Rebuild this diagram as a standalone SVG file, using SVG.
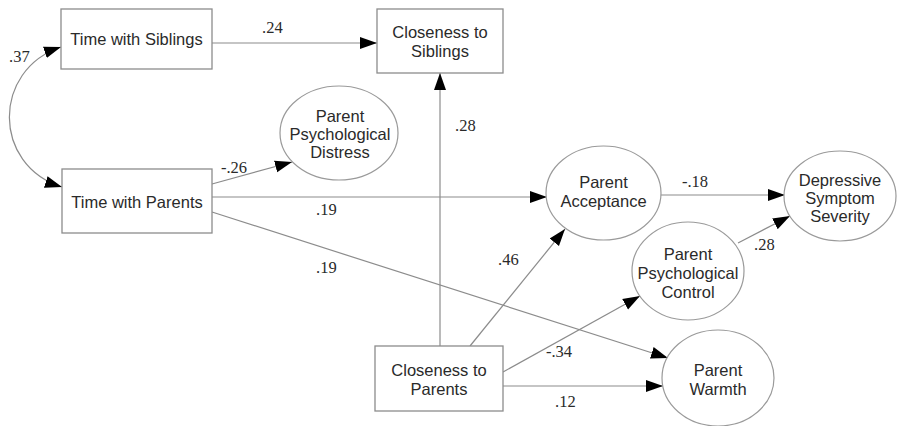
<svg xmlns="http://www.w3.org/2000/svg" width="897" height="426" viewBox="0 0 897 426">
<defs>
<marker id="ah" markerUnits="userSpaceOnUse" markerWidth="18" markerHeight="14" refX="17" refY="7" orient="auto">
<path d="M0,1 L17,7 L0,13 z" fill="#000"/>
</marker>
<marker id="ahs" markerUnits="userSpaceOnUse" markerWidth="18" markerHeight="14" refX="17" refY="7" orient="auto-start-reverse">
<path d="M0,1 L17,7 L0,13 z" fill="#000"/>
</marker>
</defs>
<style>
.box{fill:#fff;stroke:#8c8c8c;stroke-width:1.3}
.ell{fill:#fff;stroke:#9a9a9a;stroke-width:1.2}
.lbl{font-family:"Liberation Sans",Arial,sans-serif;font-size:16.5px;fill:#2a2a2a;text-anchor:middle}
.num{font-family:"Liberation Serif","Times New Roman",serif;font-size:16.5px;fill:#2a2a2a}
.edge{fill:none;stroke:#8c8c8c;stroke-width:1.2;marker-end:url(#ah)}
</style>
<rect width="897" height="426" fill="#fff"/>
<g id="connectors">
<path class="edge" d="M212,43 L377,43"/>
<path d="M61,47 C-8,70 -8,165 62,187" fill="none" stroke="#8c8c8c" stroke-width="1.2" marker-start="url(#ahs)" marker-end="url(#ah)"/>
<path class="edge" d="M212,184 L292,162"/>
<path class="edge" d="M212,197 L547,197"/>
<path class="edge" d="M212,212 L668,358"/>
<path class="edge" d="M440,346 L440,73"/>
<path class="edge" d="M470,346 L565,229"/>
<path class="edge" d="M503,372 L640,296"/>
<path class="edge" d="M503,386 L663,386"/>
<path class="edge" d="M661,195 L785,195"/>
<path class="edge" d="M738,243 L790,216"/>
<text class="num" x="262" y="33">.24</text>
<text class="num" x="9" y="62">.37</text>
<text class="num" x="221" y="173">-.26</text>
<text class="num" x="316" y="215">.19</text>
<text class="num" x="316" y="273">.19</text>
<text class="num" x="455" y="131">.28</text>
<text class="num" x="498" y="265">.46</text>
<text class="num" x="546" y="357">-.34</text>
<text class="num" x="555" y="407">.12</text>
<text class="num" x="682" y="187">-.18</text>
<text class="num" x="754" y="250">.28</text>
</g>
<g id="time-siblings">
<rect class="box" x="61" y="9" width="151" height="60"/>
<text class="lbl" x="136.5" y="45">Time with Siblings</text>
</g>
<g id="time-parents">
<rect class="box" x="62" y="169" width="150" height="64"/>
<text class="lbl" x="137" y="208">Time with Parents</text>
</g>
<g id="closeness-siblings">
<rect class="box" x="377" y="9" width="126" height="64"/>
<text class="lbl" x="440" y="38">Closeness to</text>
<text class="lbl" x="440" y="57">Siblings</text>
</g>
<g id="closeness-parents">
<rect class="box" x="375" y="346" width="128" height="65"/>
<text class="lbl" x="439" y="376">Closeness to</text>
<text class="lbl" x="439" y="395">Parents</text>
</g>
<g id="parent-distress">
<ellipse class="ell" cx="339" cy="133" rx="59" ry="47"/>
<text class="lbl" x="340" y="122">Parent</text>
<text class="lbl" x="340" y="140">Psychological</text>
<text class="lbl" x="340" y="158">Distress</text>
</g>
<g id="parent-acceptance">
<ellipse class="ell" cx="603.5" cy="193" rx="57.5" ry="47"/>
<text class="lbl" x="603.5" y="188">Parent</text>
<text class="lbl" x="603.5" y="207">Acceptance</text>
</g>
<g id="depressive">
<ellipse class="ell" cx="840" cy="196" rx="56" ry="45"/>
<text class="lbl" x="840" y="186">Depressive</text>
<text class="lbl" x="840" y="204">Symptom</text>
<text class="lbl" x="840" y="222">Severity</text>
</g>
<g id="parent-control">
<ellipse class="ell" cx="688" cy="271" rx="56" ry="49"/>
<text class="lbl" x="688" y="260">Parent</text>
<text class="lbl" x="688" y="279">Psychological</text>
<text class="lbl" x="688" y="298">Control</text>
</g>
<g id="parent-warmth">
<ellipse class="ell" cx="718" cy="378" rx="56" ry="48"/>
<text class="lbl" x="718" y="376">Parent</text>
<text class="lbl" x="718" y="395">Warmth</text>
</g>
</svg>
